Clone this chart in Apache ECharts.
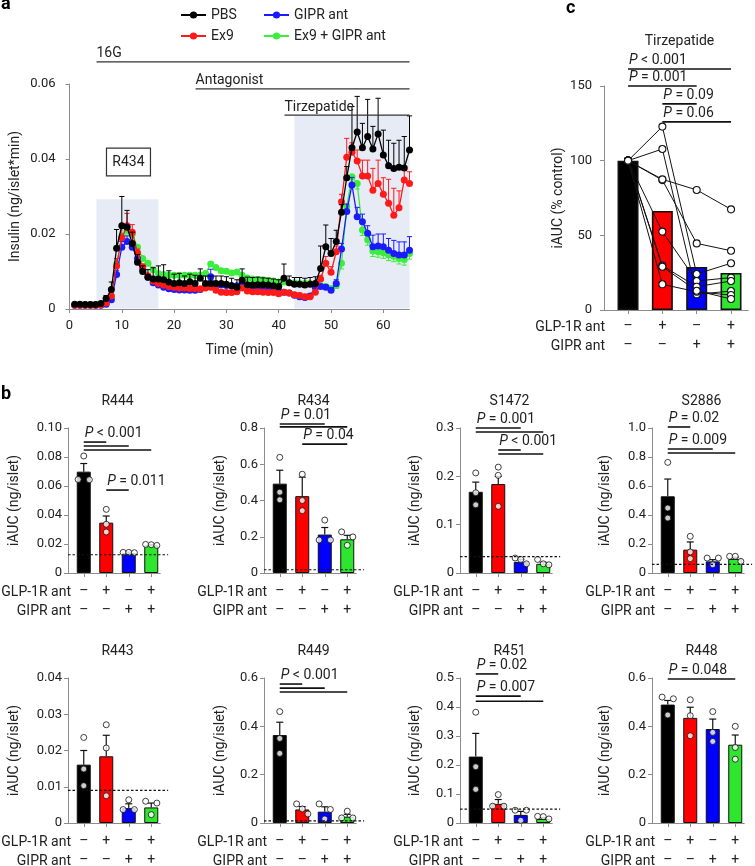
<!DOCTYPE html>
<html><head><meta charset="utf-8">
<script src="https://cdn.jsdelivr.net/npm/echarts@6/dist/echarts.min.js"></script>
<style>html,body{margin:0;padding:0;background:#fff}#c{width:755px;height:866px}</style>
</head><body><div id="c"></div>
<script>
// ================= DATA =================
// ---- Panel a: perifusion time course (R434) ----
const timeMin = [1,2,3,4,5,6,7,8,9,10,11,12,13,14,15,16,17,18,19,20,21,22,23,24,25,26,27,28,29,30,31,32,33,34,35,36,37,38,39,40,41,42,43,44,45,46,47,48,49,50,51,52,53,54,55,56,57,58,59,60,61,62,63,64,65];
const timeTicks = [0,10,20,30,40,50,60];
const insulinTicks = [0,0.02,0.04,0.06];
const pbsInsulin = [
 0.0013,0.0013,0.0012,0.0012,0.0012,0.0015,0.0028,0.0052,0.0162,0.0222,
 0.0218,0.0175,0.0125,0.0100,0.0085,0.0080,0.0080,0.0078,0.0072,0.0068,
 0.0070,0.0068,0.0073,0.0068,0.0082,0.0068,0.0068,0.0068,0.0068,0.0066,
 0.0062,0.0058,0.0077,0.0065,0.0064,0.0065,0.0065,0.0064,0.0062,0.0060,
 0.0082,0.0070,0.0066,0.0066,0.0064,0.0066,0.0068,0.0108,0.0166,0.0148,
 0.0180,0.0258,0.0350,0.0430,0.0472,0.0430,0.0460,0.0427,0.0467,0.0411,
 0.0382,0.0375,0.0378,0.0376,0.0424];
const pbsSem = [
 0.0003,0.0003,0.0003,0.0003,0.0003,0.0004,0.0008,0.0020,0.0050,0.0078,
 0.0045,0.0030,0.0020,0.0015,0.0020,0.0030,0.0035,0.0040,0.0030,0.0025,
 0.0025,0.0020,0.0020,0.0022,0.0025,0.0020,0.0020,0.0020,0.0020,0.0020,
 0.0020,0.0020,0.0030,0.0020,0.0020,0.0020,0.0018,0.0018,0.0018,0.0018,
 0.0038,0.0018,0.0018,0.0018,0.0018,0.0018,0.0018,0.0060,0.0058,0.0040,
 0.0030,0.0020,0.0030,0.0110,0.0095,0.0065,0.0099,0.0060,0.0095,0.0066,
 0.0068,0.0067,0.0072,0.0084,0.0091];
const ex9Insulin = [
 0.0010,0.0010,0.0010,0.0010,0.0010,0.0011,0.0016,0.0035,0.0115,0.0190,
 0.0222,0.0205,0.0150,0.0112,0.0088,0.0075,0.0068,0.0064,0.0060,0.0058,
 0.0056,0.0056,0.0055,0.0055,0.0054,0.0056,0.0058,0.0050,0.0045,0.0044,
 0.0044,0.0046,0.0056,0.0048,0.0046,0.0046,0.0045,0.0044,0.0044,0.0041,
 0.0045,0.0043,0.0038,0.0036,0.0033,0.0033,0.0045,0.0080,0.0122,0.0098,
 0.0153,0.0286,0.0405,0.0418,0.0395,0.0355,0.0355,0.0317,0.0335,0.0306,
 0.0282,0.0250,0.0270,0.0344,0.0335];
const ex9Sem = [
 0.0002,0.0002,0.0002,0.0002,0.0002,0.0002,0.0004,0.0010,0.0020,0.0030,
 0.0033,0.0020,0.0010,0.0008,0.0007,0.0006,0.0006,0.0006,0.0006,0.0006,
 0.0006,0.0006,0.0006,0.0006,0.0006,0.0006,0.0006,0.0006,0.0006,0.0006,
 0.0006,0.0006,0.0006,0.0006,0.0006,0.0006,0.0006,0.0006,0.0006,0.0006,
 0.0006,0.0006,0.0006,0.0006,0.0006,0.0006,0.0006,0.0010,0.0018,0.0015,
 0.0015,0.0020,0.0050,0.0025,0.0029,0.0042,0.0042,0.0058,0.0062,0.0044,
 0.0064,0.0072,0.0045,0.0026,0.0031];
const giprInsulin = [
 0.0010,0.0010,0.0010,0.0010,0.0010,0.0010,0.0013,0.0025,0.0092,0.0165,
 0.0180,0.0165,0.0135,0.0105,0.0085,0.0070,0.0064,0.0058,0.0054,0.0052,
 0.0051,0.0051,0.0050,0.0050,0.0052,0.0060,0.0086,0.0064,0.0064,0.0063,
 0.0062,0.0062,0.0064,0.0063,0.0056,0.0055,0.0055,0.0054,0.0052,0.0047,
 0.0045,0.0043,0.0037,0.0033,0.0031,0.0035,0.0058,0.0060,0.0058,0.0050,
 0.0068,0.0160,0.0260,0.0331,0.0246,0.0233,0.0202,0.0166,0.0168,0.0166,
 0.0157,0.0148,0.0144,0.0144,0.0157];
const giprSem = [
 0.0002,0.0002,0.0002,0.0002,0.0002,0.0002,0.0002,0.0005,0.0010,0.0015,
 0.0015,0.0010,0.0008,0.0006,0.0006,0.0006,0.0006,0.0006,0.0006,0.0006,
 0.0006,0.0006,0.0006,0.0006,0.0006,0.0006,0.0020,0.0006,0.0006,0.0006,
 0.0006,0.0006,0.0006,0.0006,0.0006,0.0006,0.0006,0.0006,0.0006,0.0006,
 0.0006,0.0006,0.0006,0.0006,0.0006,0.0006,0.0006,0.0006,0.0006,0.0006,
 0.0010,0.0015,0.0020,0.0020,0.0025,0.0020,0.0020,0.0031,0.0032,0.0034,
 0.0031,0.0035,0.0035,0.0035,0.0036];
const comboInsulin = [
 0.0012,0.0012,0.0012,0.0012,0.0012,0.0013,0.0018,0.0035,0.0120,0.0195,
 0.0210,0.0200,0.0165,0.0135,0.0122,0.0105,0.0095,0.0092,0.0090,0.0090,
 0.0090,0.0090,0.0090,0.0090,0.0090,0.0095,0.0120,0.0111,0.0102,0.0101,
 0.0096,0.0099,0.0090,0.0083,0.0080,0.0078,0.0078,0.0076,0.0075,0.0072,
 0.0072,0.0070,0.0070,0.0068,0.0068,0.0068,0.0065,0.0062,0.0060,0.0055,
 0.0063,0.0122,0.0273,0.0353,0.0335,0.0211,0.0185,0.0155,0.0153,0.0150,
 0.0144,0.0141,0.0135,0.0132,0.0148];
const comboSem = [
 0.0002,0.0002,0.0002,0.0002,0.0002,0.0002,0.0002,0.0005,0.0010,0.0010,
 0.0010,0.0008,0.0008,0.0006,0.0006,0.0006,0.0006,0.0006,0.0006,0.0006,
 0.0006,0.0006,0.0006,0.0006,0.0006,0.0006,0.0006,0.0006,0.0006,0.0006,
 0.0006,0.0006,0.0006,0.0006,0.0006,0.0006,0.0006,0.0006,0.0006,0.0006,
 0.0006,0.0006,0.0006,0.0006,0.0006,0.0006,0.0006,0.0006,0.0006,0.0006,
 0.0008,0.0015,0.0015,0.0015,0.0015,0.0015,0.0015,0.0015,0.0015,0.0015,
 0.0015,0.0015,0.0015,0.0015,0.0015];
const seriesNames = ['PBS','Ex9','GIPR ant','Ex9 + GIPR ant'];

// ---- Panel b: iAUC per donor (mean, SEM, individual replicates, baseline) ----
const donors = ['R444','R434','S1472','S2886','R443','R449','R451','R448'];
const glpRow = ['–','+','–','+'];
const giprRow = ['–','–','+','+'];
const meanR444 = [0.0699,0.0347,0.0138,0.0191];
const semR444 = [0.0056,0.0046,0.0006,0.0005];
const ptsR444 = [[0.0807,0.0645,0.0643],[0.0439,0.0336,0.0283],[0.0142,0.0142,0.0140],[0.0197,0.0195,0.0190]];
const meanR434 = [0.493,0.424,0.212,0.186];
const semR434 = [0.074,0.105,0.039,0.022];
const ptsR434 = [[0.638,0.446,0.404],[0.545,0.400,0.344],[0.292,0.182,0.182],[0.227,0.199,0.153]];
const meanS1472 = [0.168,0.184,0.023,0.019];
const semS1472 = [0.020,0.016,0.005,0.003];
const ptsS1472 = [[0.207,0.166,0.141],[0.219,0.202,0.138],[0.031,0.028,0.019],[0.028,0.019,0.017]];
const meanS2886 = [0.529,0.161,0.080,0.097];
const semS2886 = [0.119,0.053,0.012,0.012];
const ptsS2886 = [[0.763,0.448,0.379],[0.253,0.145,0.099],[0.103,0.103,0.057],[0.115,0.115,0.080]];
const meanR443 = [0.0161,0.0184,0.0041,0.0043];
const semR443 = [0.0039,0.0058,0.0012,0.0012];
const ptsR443 = [[0.0236,0.0149,0.0103],[0.0271,0.0207,0.0075],[0.0064,0.0037,0.0037],[0.0060,0.0055,0.0023]];
const meanR449 = [0.364,0.056,0.047,0.026];
const semR449 = [0.053,0.012,0.020,0.010];
const ptsR449 = [[0.461,0.350,0.288],[0.079,0.058,0.0375],[0.079,0.056,0.017],[0.049,0.021,0.021]];
const meanR451 = [0.229,0.066,0.028,0.014];
const semR451 = [0.080,0.015,0.012,0.005];
const ptsR451 = [[0.382,0.194,0.116],[0.098,0.058,0.058],[0.044,0.044,0.009],[0.023,0.022,0.014]];
const meanR448 = [0.490,0.435,0.389,0.324];
const semR448 = [0.017,0.044,0.041,0.040];
const ptsR448 = [[0.521,0.514,0.447],[0.510,0.444,0.361],[0.461,0.375,0.3375],[0.400,0.3125,0.264]];
const baselines = [0.0126,0.018,0.034,0.060,0.009,0.009,0.048,null];
const axisMax = [0.10,0.8,0.3,1.0,0.04,0.6,0.5,0.6];
const axisStep = [0.02,0.2,0.1,0.2,0.01,0.2,0.1,0.2];

// significance annotations: text, start group, [end group, level]
const sigR444 = [{p:'< 0.001',from:0,lines:[[1,0.0903],[2,0.0876],[3,0.0848]]},{p:'= 0.011',from:1,lines:[[2,0.0572]]}];
const sigR434 = [{p:'= 0.01',from:0,lines:[[2,0.822],[3,0.806]]},{p:'= 0.04',from:1,lines:[[3,0.711]]}];
const sigS1472 = [{p:'= 0.001',from:0,lines:[[2,0.300],[3,0.2917]]},{p:'< 0.001',from:1,lines:[[2,0.2545],[3,0.2462]]}];
const sigS2886 = [{p:'= 0.02',from:0,lines:[[1,1.007]]},{p:'= 0.009',from:0,lines:[[2,0.855],[3,0.828]]}];
const sigR443 = [];
const sigR449 = [{p:'< 0.001',from:0,lines:[[1,0.575],[2,0.558],[3,0.542]]}];
const sigR451 = [{p:'= 0.02',from:0,lines:[[1,0.514]]},{p:'= 0.007',from:0,lines:[[2,0.4375],[3,0.420]]}];
const sigR448 = [{p:'= 0.048',from:0,lines:[[3,0.596]]}];

// ---- Panel c: tirzepatide iAUC, % of control (donor order as above) ----
const pctMean = [100,66.3,28.8,24.8];
const pctPBS = [100,100,100,100,100,100,100,100];
const pctGLP = [52.5,87.0,107.8,29.7,122.8,17.2,29.0,87.5];
const pctGIPR = [19.4,44.6,10.5,15.6,24.1,12.2,12.9,80.4];
const pctBoth = [21.7,39.7,12.7,19.4,31.3,10.0,7.4,67.4];
const sigTirz = [{p:'< 0.001',from:0,lines:[[3,161.4]]},{p:'= 0.001',from:0,lines:[[2,150]]},{p:'= 0.09',from:1,lines:[[2,138]]},{p:'= 0.06',from:1,lines:[[3,126]]}];

// annotation windows for panel a (time in min, insulin level)
const timeBars = [['16G',5.16,0.0659],['Antagonist',24.1,0.0587],['Tirzepatide',41.1,0.0517]];
const shaded = [[5.16,17.0,0.0293],[43.0,65,0.0517]];

// ================= STYLE / LAYOUT =================
const FONT = 'Roboto, "Liberation Sans", sans-serif';
const INK = '#222';
const AX = '#8c8c8c';
const lineColors = ['#000000','#ff1a1a','#1a1aff','#3cee3c'];
const barColors = ['#000000','#ff0000','#0000ff','#2ee62e'];

const chart = echarts.init(document.getElementById('c'), null, {renderer:'canvas', width:755, height:866});

const grids = [], xAxes = [], yAxes = [], series = [];
function axisBase(){ return {
  axisLine:{show:true,onZero:false,lineStyle:{color:AX,width:1}},
  axisTick:{show:true,length:4,lineStyle:{color:AX,width:1}},
  splitLine:{show:false},
  nameMoveOverlap:false,
  axisLabel:{color:INK,fontSize:13,fontFamily:FONT},
  nameTextStyle:{color:INK,fontSize:14,fontFamily:FONT}
};}

// ---- panel a grid (0)
grids.push({left:69.5,top:84,width:340,height:225,outerBoundsMode:'none'});
xAxes.push(Object.assign(axisBase(),{gridIndex:0,type:'value',min:0,max:65,
  axisTick:{show:true,length:4,lineStyle:{color:AX},customValues:timeTicks},
  axisLabel:{color:INK,fontSize:13,fontFamily:FONT,margin:10,customValues:timeTicks},
  name:'Time (min)',nameLocation:'middle',nameGap:34}));
yAxes.push(Object.assign(axisBase(),{gridIndex:0,type:'value',min:0,max:0.06,interval:0.02,
  axisLabel:{color:INK,fontSize:13,fontFamily:FONT,margin:14,formatter:v=>v===0?'0':v.toFixed(2)},
  name:'Insulin (ng/islet*min)',nameLocation:'middle',nameGap:47}));

const tcMeans = [pbsInsulin,ex9Insulin,giprInsulin,comboInsulin];
const tcSems = [pbsSem,ex9Sem,giprSem,comboSem];
const tcDir = [1,1,1,-1];
[3,2,1,0].forEach((k,ord)=>{
  const col = lineColors[k];
  series.push({type:'custom',xAxisIndex:0,yAxisIndex:0,z:3+ord*2,silent:true,clip:false,
    data:timeMin.map((t,i)=>[t,tcMeans[k][i],tcSems[k][i]]),
    renderItem:(p,api)=>{
      const x=api.value(0),y=api.value(1),e=api.value(2)*tcDir[k];
      const a=api.coord([x,y]),b=api.coord([x,y+e]);
      return {type:'group',children:[
        {type:'line',shape:{x1:a[0],y1:a[1],x2:b[0],y2:b[1]},style:{stroke:col,lineWidth:1}},
        {type:'line',shape:{x1:b[0]-2.6,y1:b[1],x2:b[0]+2.6,y2:b[1]},style:{stroke:col,lineWidth:1}}]};
    }});
  series.push({name:seriesNames[k],type:'line',xAxisIndex:0,yAxisIndex:0,z:4+ord*2,
    data:timeMin.map((t,i)=>[t,tcMeans[k][i]]),symbol:'circle',symbolSize:7,
    lineStyle:{color:col,width:1.3},itemStyle:{color:col}});
});

// ---- panel b grids (1..8)
const bMeans=[meanR444,meanR434,meanS1472,meanS2886,meanR443,meanR449,meanR451,meanR448];
const bSems=[semR444,semR434,semS1472,semS2886,semR443,semR449,semR451,semR448];
const bPts=[ptsR444,ptsR434,ptsS1472,ptsS2886,ptsR443,ptsR449,ptsR451,ptsR448];
const bSig=[sigR444,sigR434,sigS1472,sigS2886,sigR443,sigR449,sigR451,sigR448];
const colX=[68,264,460,652], rowTop=[428,678], nameGaps=[47,37,38,40];
const BX0=-0.7, BX1=3.4, BPX=22.5;

function jitter(vals, span){
  const idx = vals.map((v,i)=>i).sort((a,b)=>vals[b]-vals[a]);
  const off = vals.map(()=>0); const tol = span*0.04;
  const cl=[]; let cur=[idx[0]];
  for(let j=1;j<idx.length;j++){ if(vals[idx[j-1]]-vals[idx[j]]<tol) cur.push(idx[j]); else {cl.push(cur);cur=[idx[j]];} }
  cl.push(cur);
  cl.forEach(c=>{ if(c.length===2){off[c[0]]=-0.25;off[c[1]]=0.25;} else if(c.length>=3){off[c[0]]=-0.25;off[c[1]]=0;off[c[2]]=0.25;} });
  return off;
}
const xLabelFmt = v=>{const i=Math.round(v);return glpRow[i]+'\n'+giprRow[i];};

donors.forEach((d,k)=>{
  const gi=k+1, r=Math.floor(k/4), c=k%4;
  grids.push({left:colX[c],top:rowTop[r],width:(BX1-BX0)*BPX,height:145,outerBoundsMode:'none'});
  xAxes.push(Object.assign(axisBase(),{gridIndex:gi,type:'value',min:BX0,max:BX1,
    axisTick:{show:true,length:4,lineStyle:{color:AX},customValues:[0,1,2,3]},
    axisLabel:{color:INK,fontSize:14,fontFamily:FONT,margin:9,lineHeight:19,customValues:[0,1,2,3],formatter:xLabelFmt}}));
  const dec = axisStep[k]<0.1?2:1;
  yAxes.push(Object.assign(axisBase(),{gridIndex:gi,type:'value',min:0,max:axisMax[k],interval:axisStep[k],
    axisLabel:{color:INK,fontSize:13,fontFamily:FONT,margin:6,formatter:v=>v===0?'0':v.toFixed(dec)},
    name:'iAUC (ng/islet)',nameLocation:'middle',nameGap:nameGaps[c]}));
  series.push({type:'bar',xAxisIndex:gi,yAxisIndex:gi,barWidth:14,z:2,
    data:bMeans[k].map((m,i)=>({value:[i,m],itemStyle:{color:barColors[i]}})),
    itemStyle:{borderColor:'#111',borderWidth:1}});
  series.push({type:'custom',xAxisIndex:gi,yAxisIndex:gi,z:3,clip:false,silent:true,
    data:bMeans[k].map((m,i)=>[i,m,bSems[k][i]]),
    renderItem:(p,api)=>{
      const a=api.coord([api.value(0),api.value(1)]),b=api.coord([api.value(0),api.value(1)+api.value(2)]);
      return {type:'group',children:[
        {type:'line',shape:{x1:a[0],y1:a[1],x2:b[0],y2:b[1]},style:{stroke:'#111',lineWidth:1.2}},
        {type:'line',shape:{x1:b[0]-3.5,y1:b[1],x2:b[0]+3.5,y2:b[1]},style:{stroke:'#111',lineWidth:1.2}}]};
    }});
  const dots=[];
  bPts[k].forEach((vals,i)=>{ const off=jitter(vals,axisMax[k]); vals.forEach((v,j)=>dots.push([i+off[j],v])); });
  series.push({type:'scatter',xAxisIndex:gi,yAxisIndex:gi,z:4,symbolSize:6,data:dots,
    itemStyle:{color:'#fff',borderColor:'#111',borderWidth:1}});
});

// ---- panel c grid (9)
const CX0=-0.7, CX1=3.5, CPX=34.33;
grids.push({left:604,top:86,width:(CX1-CX0)*CPX,height:224,outerBoundsMode:'none'});
xAxes.push(Object.assign(axisBase(),{gridIndex:9,type:'value',min:CX0,max:CX1,
  axisTick:{show:true,length:4,lineStyle:{color:AX},customValues:[0,1,2,3]},
  axisLabel:{color:INK,fontSize:14,fontFamily:FONT,margin:7,lineHeight:19,customValues:[0,1,2,3],formatter:xLabelFmt}}));
yAxes.push(Object.assign(axisBase(),{gridIndex:9,type:'value',min:0,max:150,interval:50,
  axisLabel:{color:INK,fontSize:13,fontFamily:FONT,margin:12},
  name:'iAUC (% control)',nameLocation:'middle',nameGap:39}));
series.push({type:'bar',xAxisIndex:9,yAxisIndex:9,barWidth:21,z:2,
  data:pctMean.map((m,i)=>({value:[i,m],itemStyle:{color:barColors[i]}})),
  itemStyle:{borderColor:'#111',borderWidth:1.6}});
donors.forEach((d,j)=>{
  series.push({type:'line',xAxisIndex:9,yAxisIndex:9,z:5,symbol:'circle',symbolSize:7,
    data:[[0,pctPBS[j]],[1,pctGLP[j]],[2,pctGIPR[j]],[3,pctBoth[j]]],
    lineStyle:{color:'#111',width:1},itemStyle:{color:'#fff',borderColor:'#111',borderWidth:1.1}});
});

const legendText = {color:INK,fontSize:14,fontFamily:FONT};
const option = {
  animation:false,
  textStyle:{fontFamily:FONT},
  legend:[
    {left:175,top:3,orient:'vertical',itemGap:7,itemWidth:25,itemHeight:9,selectedMode:false,data:['PBS','Ex9'],textStyle:legendText},
    {left:258,top:3,orient:'vertical',itemGap:7,itemWidth:25,itemHeight:9,selectedMode:false,data:['GIPR ant','Ex9 + GIPR ant'],textStyle:legendText}
  ],
  grid:grids, xAxis:xAxes, yAxis:yAxes, series:series
};
chart.setOption(option);

// ================= ANNOTATIONS =================
const px=(gi,x,y)=>chart.convertToPixel({gridIndex:gi},[x,y]);
const G=[];
function text(x,y,t,o){o=o||{};G.push({type:'text',x:x,y:y,z:100,silent:true,style:Object.assign({text:t,fill:INK,fontSize:14,fontFamily:FONT,
  align:o.align||'left',textAlign:o.align||'left',verticalAlign:'middle',textVerticalAlign:'middle',
  rich:{i:{fontStyle:'italic',fontSize:14,fontFamily:FONT,fill:INK}}},o.style||{})});}
function seg(x1,y1,x2,y2,st){G.push({type:'line',z:100,silent:true,shape:{x1:x1,y1:y1,x2:x2,y2:y2},style:Object.assign({stroke:'#222',lineWidth:1.4},st||{})});}

// panel a
shaded.forEach(w=>{const a=px(0,w[0],w[2]),b=px(0,w[1],0);
  G.push({type:'rect',z:-1,silent:true,shape:{x:a[0],y:a[1],width:b[0]-a[0],height:b[1]-a[1]-0.5},style:{fill:'#e6ebf5'}});});
timeBars.forEach(tb=>{const a=px(0,tb[1],tb[2]),b=px(0,65,tb[2]);
  seg(a[0],a[1],b[0],b[1],{stroke:'#333',lineWidth:1.3});
  text(a[0],a[1]-8,tb[0]);});
{const a=px(0,7.07,0.0429),b=px(0,15.48,0.0355);
 G.push({type:'rect',z:100,silent:true,shape:{x:a[0],y:a[1],width:b[0]-a[0],height:b[1]-a[1]},style:{fill:'#fff',stroke:'#333',lineWidth:1.2}});
 text((a[0]+b[0])/2,(a[1]+b[1])/2,'R434',{align:'center'});}

function sigDraw(gi,list){
  list.forEach(s=>{
    const first=px(gi,s.from,s.lines[0][1]);
    text(first[0]+1,first[1]-8.5,'{i|P} '+s.p);
    s.lines.forEach(l=>{const a=px(gi,s.from,l[1]),b=px(gi,l[0],l[1]);seg(a[0],a[1],b[0],b[1],{lineWidth:1.6,stroke:'#111'});});
  });
}
// panel b
donors.forEach((d,k)=>{
  const gi=k+1,r=Math.floor(k/4),c=k%4;
  const top=px(gi,1.5,axisMax[k]), bot=px(gi,BX0,0);
  text(top[0],top[1]-27,d,{align:'center'});
  text(bot[0]+3,bot[1]+19,'GLP-1R ant',{align:'right'});
  text(bot[0]+3,bot[1]+38,'GIPR ant',{align:'right'});
  if(baselines[k]!==null){const a=px(gi,BX0,baselines[k]),b=px(gi,3.75,baselines[k]);
    seg(a[0],a[1],b[0],b[1],{stroke:'#111',lineWidth:1.2,lineDash:[2.5,2]});}
  sigDraw(gi,bSig[k]);
});
// panel c
{const top=px(9,1.5,150),bot=px(9,CX0,0);
 text(top[0],top[1]-45,'Tirzepatide',{align:'center'});
 text(bot[0]+1,bot[1]+17,'GLP-1R ant',{align:'right'});
 text(bot[0]+1,bot[1]+36,'GIPR ant',{align:'right'});
 sigDraw(9,sigTirz);}
// panel letters
text(1,4,'a',{style:{fontSize:18,fontWeight:'bold',fill:'#000'}});
text(1,394,'b',{style:{fontSize:18,fontWeight:'bold',fill:'#000'}});
text(566,8,'c',{style:{fontSize:18,fontWeight:'bold',fill:'#000'}});

chart.setOption({graphic:{elements:G}});
</script></body></html>
